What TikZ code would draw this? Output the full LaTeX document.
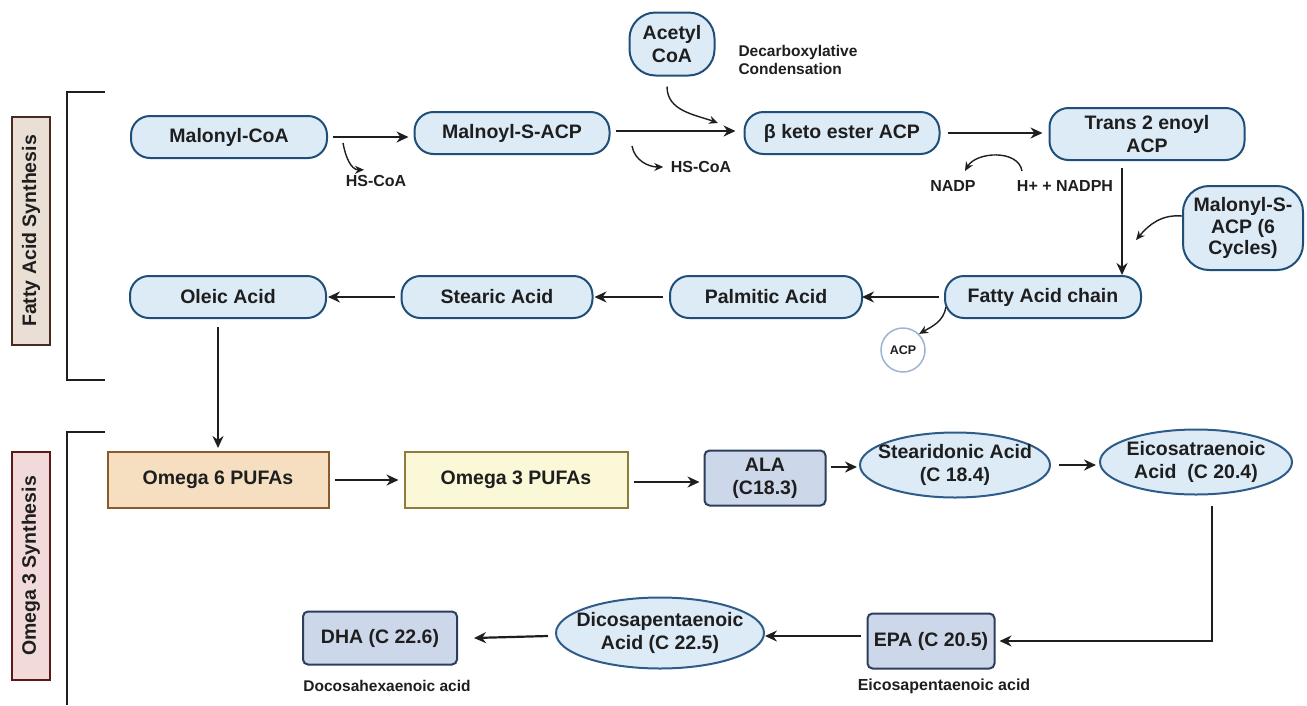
\documentclass[tikz,border=0pt]{standalone}
\usepackage{fontspec}
\setmainfont{Liberation Sans}
\usepackage{tikz}
\usetikzlibrary{arrows.meta,calc,positioning,shapes.geometric}
\definecolor{pillfill}{HTML}{DDEBF7}
\definecolor{pillline}{HTML}{1F4E79}
\definecolor{ovalline}{HTML}{2E5C8A}
\definecolor{acidfill}{HTML}{CDD7EA}
\definecolor{acidline}{HTML}{2C3E5C}
\definecolor{sixfill}{HTML}{F6DFC0}
\definecolor{sixline}{HTML}{8A5A2E}
\definecolor{threefill}{HTML}{FBF8D8}
\definecolor{threeline}{HTML}{8C7D3C}
\definecolor{fasfill}{HTML}{EADFD5}
\definecolor{fasline}{HTML}{4A2A1E}
\definecolor{omfill}{HTML}{F2DADA}
\definecolor{omline}{HTML}{5A1A1A}
\definecolor{acpline}{HTML}{9DB3D3}
\definecolor{ink}{HTML}{1E1E1E}

\begin{document}
\begin{tikzpicture}[x=1pt,y=-1pt, every node/.style={font=\fontsize{19.5}{23}\selectfont\bfseries,align=center,text=ink},
  pill/.style={rounded corners=19pt,draw=pillline,fill=pillfill,line width=2pt,minimum width=196pt,minimum height=42pt,inner sep=1pt},
  oval/.style={ellipse,draw=ovalline,fill=pillfill,line width=2pt,inner xsep=-12pt,inner ysep=0pt},
  acid/.style={rounded corners=5pt,draw=acidline,fill=acidfill,line width=2pt,inner sep=1pt},
  pufa/.style={line width=2pt,minimum width=221pt,minimum height=56pt},
  tag/.style={rotate=90,line width=2pt,minimum width=228pt,minimum height=38pt,font=\fontsize{19.5}{22}\selectfont\bfseries},
  note/.style={font=\fontsize{16}{18}\selectfont\bfseries},
  a/.style={-{Stealth[length=12pt,width=11pt]},line width=2.2pt,draw=ink},
  b/.style={-{Stealth[length=9pt,width=8pt]},line width=1.4pt,draw=ink}]
  \useasboundingbox (0,0) rectangle (1307,705);
  % section labels and brackets
  \node[tag,draw=fasline,fill=fasfill] (fas) at (31,231) {Fatty Acid Synthesis};
  \node[tag,draw=omline,fill=omfill] (oms) at (31,566) {Omega 3 Synthesis};
  \draw[ink,line width=2pt] (105,92) -- (67,92) -- (67,380) -- (105,380);
  \draw[ink,line width=2pt] (105,432) -- (67,432) -- (67,705);
  % fatty acid synthesis
  \node[pill] (malcoa) at (229,137) {Malonyl-CoA};
  \node[pill,minimum width=195pt] (malacp) at (512,133) {Malnoyl-S-ACP};
  \node[pill,minimum width=195pt] (keto) at (842,133) {β keto ester ACP};
  \node[pill,minimum width=195pt,minimum height=52pt] (enoyl) at (1147,134) {Trans 2 enoyl\\ACP};
  \node[pill,minimum width=85pt,minimum height=63pt,rounded corners=26pt] (acetyl) at (672,44) {Acetyl\\CoA};
  \node[pill,minimum width=120pt,minimum height=84pt,rounded corners=26pt,inner sep=0pt,font=\fontsize{19.5}{21.5}\selectfont\bfseries] (malcyc) at (1243,228) {Malonyl-S-\\ACP (6\\Cycles)};
  \node[pill] (chain) at (1043,297) {Fatty Acid chain};
  \node[pill,minimum width=192pt] (palm) at (766,297) {Palmitic Acid};
  \node[pill,minimum width=191pt] (stear) at (497,297) {Stearic Acid};
  \node[pill] (oleic) at (228,297) {Oleic Acid};
  \node[circle,draw=acpline,fill=white,line width=1.5pt,minimum size=44pt,inner sep=0pt,font=\fontsize{12.5}{14}\selectfont\bfseries] (acp) at (903,350) {ACP};
  \node[note] (hs1) at (376,181) {HS-CoA};
  \node[note] (hs2) at (701,167) {HS-CoA};
  \node[note,anchor=west,align=left,font=\fontsize{15.5}{18}\selectfont\bfseries] (decarb) at (735,60) {Decarboxylative\\Condensation};
  \node[note] (nadp) at (953,186) {NADP};
  \node[note] (nadph) at (1065,186) {H+ + NADPH};
  \draw[a] ($(malcoa.east)+(5,0)$) -- ($(malacp.west)+(-5,4)$);
  \draw[a] ($(malacp.east)+(5,-2)$) -- ($(keto.west)+(-8,-2)$);
  \draw[a] ($(keto.east)+(7,0)$) -- ($(enoyl.west)+(-6,-1)$);
  \coordinate (en1) at (1122,168);
  \draw[a] (en1) -- (en1 |- chain.north);
  \draw[a] ($(chain.west)+(-5,0)$) -- ($(palm.east)+(-1,0)$);
  \draw[a] ($(palm.west)+(-6,0)$) -- ($(stear.east)+(1,0)$);
  \draw[a] ($(stear.west)+(-6,0)$) -- ($(oleic.east)+(1,0)$);
  \draw[b] (343,143) to[out=-80,in=180] ($(hs1.north)+(-12,-2)$);
  \draw[b] (632,146) to[out=-80,in=180] ($(hs2.west)+(-4,0)$);
  \draw[b] ($(acetyl.south)+(-5,10)$) to[out=-90,in=160] (718,123);
  \draw[b] ($(nadph.north)+(-43,-6)$) to[out=100,in=60] ($(nadp.north)+(12,-6)$);
  \draw[b] ($(malcyc.west)+(0,-12)$) to[out=175,in=50] (1136,240);
  \draw[b] ($(chain.south west)+(2,-12)$) to[out=-100,in=30] (acp.north east);
  % omega 3 synthesis
  \node[pufa,draw=sixline,fill=sixfill] (om6) at (218,480) {Omega 6 PUFAs};
  \node[pufa,draw=threeline,fill=threefill,minimum width=223pt] (om3) at (516,480) {Omega 3 PUFAs};
  \node[acid,minimum width=121pt,minimum height=55pt] (ala) at (765,478) {ALA\\(C18.3)};
  \node[oval,minimum width=190pt,minimum height=65pt] (stearid) at (955,465) {Stearidonic Acid\\(C 18.4)};
  \node[oval,minimum width=192pt,minimum height=65pt] (eicosa) at (1196,462) {Eicosatraenoic\\Acid~ (C 20.4)};
  \node[acid,minimum width=127pt,minimum height=55pt] (epa) at (931,641) {EPA (C 20.5)};
  \node[oval,minimum width=208pt,minimum height=71pt] (dicosa) at (660,633) {Dicosapentaenoic\\Acid (C 22.5)};
  \node[acid,minimum width=154pt,minimum height=53pt] (dha) at (380,638) {DHA (C 22.6)};
  \node[note] (epalab) at (944,686) {Eicosapentaenoic acid};
  \node[note,font=\fontsize{15.5}{18}\selectfont\bfseries] (dhalab) at (387,686) {Docosahexaenoic acid};
  \draw[a] (oleic.south -| om6.north) ++(0,8) -- ($(om6.north)+(0,-3)$);
  \draw[a] ($(om6.east)+(5,0)$) -- ($(om3.west)+(-5,0)$);
  \draw[a] ($(om3.east)+(5,2)$) -- ($(ala.west)+(-4,4)$);
  \draw[a] ($(ala.east)+(4,-11)$) -- ($(stearid.west)+(-2,2)$);
  \draw[a] ($(stearid.east)+(8,0)$) -- ($(eicosa.west)+(-3,3)$);
  \draw[a] ($(eicosa.south)+(16,10)$) |- ($(epa.east)+(4,0)$);
  \draw[a] ($(epa.west)+(-6,-5)$) -- ($(dicosa.east)+(0,3)$);
  \draw[a] ($(dicosa.west)+(-7,3)$) -- ($(dha.east)+(16,0)$);
\end{tikzpicture}
\end{document}
